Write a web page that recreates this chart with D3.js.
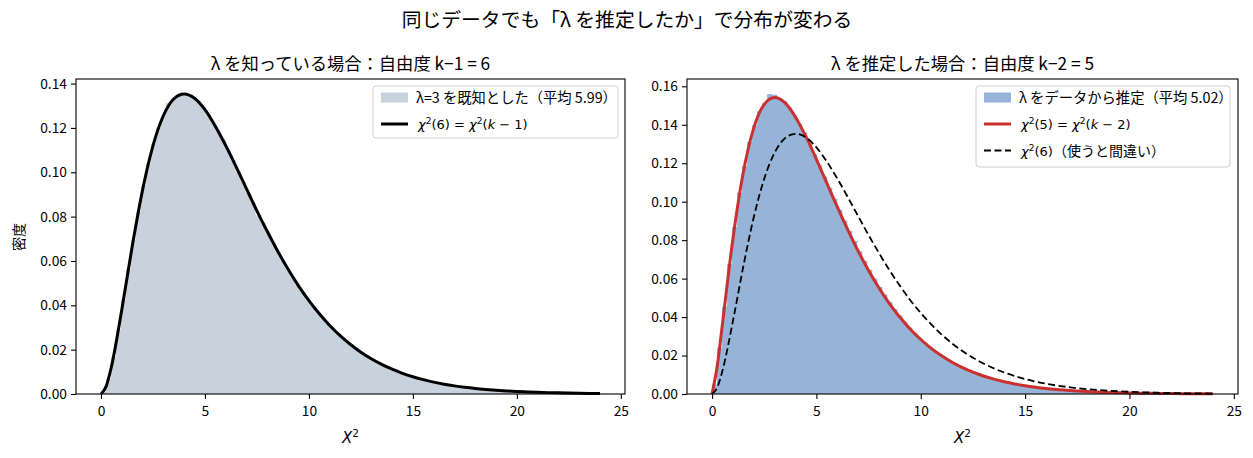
<!DOCTYPE html>
<html>
<head>
<meta charset="utf-8">
<script src="https://cdn.jsdelivr.net/npm/d3@7"></script>
<style>
  body { margin: 0; background: #fff; }
  text { font-family: "Noto Sans CJK JP", "Noto Sans", sans-serif; fill: #000; }
  .math { font-family: "DejaVu Sans", sans-serif; }
</style>
</head>
<body>
<script>
// histogram bins: 100 bins of width 0.24 starting at 0
var binWidth = 0.24;

// λ known: density per bin
var histKnown = [0.0009, 0.0068, 0.0167, 0.0290, 0.0425, 0.0563, 0.0697, 0.0823, 0.0938, 0.1039,
  0.1126, 0.1198, 0.1255, 0.1312, 0.1335, 0.1346, 0.1353, 0.1350, 0.1338, 0.1319,
  0.1293, 0.1261, 0.1225, 0.1185, 0.1150, 0.1098, 0.1051, 0.1004, 0.0957, 0.0909,
  0.0862, 0.0805, 0.0770, 0.0725, 0.0682, 0.0641, 0.0601, 0.0562, 0.0526, 0.0491,
  0.0458, 0.0426, 0.0397, 0.0369, 0.0342, 0.0317, 0.0300, 0.0272, 0.0252, 0.0232,
  0.0214, 0.0198, 0.0183, 0.0168, 0.0154, 0.0142, 0.0131, 0.0120, 0.0110, 0.0101,
  0.0093, 0.0085, 0.0078, 0.0071, 0.0065, 0.0060, 0.0054, 0.0050, 0.0045, 0.0041,
  0.0038, 0.0035, 0.0031, 0.0029, 0.0026, 0.0024, 0.0022, 0.0020, 0.0018, 0.0016,
  0.0015, 0.0014, 0.0012, 0.0011, 0.0010, 0.0009, 0.0008, 0.0008, 0.0007, 0.0006,
  0.0006, 0.0005, 0.0005, 0.0004, 0.0004, 0.0003, 0.0003, 0.0003, 0.0003, 0.0002];

// λ estimated: density per bin
var histEst = [0.0050, 0.0241, 0.0455, 0.0676, 0.0868, 0.1046, 0.1185, 0.1310, 0.1398, 0.1470,
  0.1512, 0.1560, 0.1556, 0.1538, 0.1522, 0.1488, 0.1449, 0.1404, 0.1360, 0.1302,
  0.1245, 0.1188, 0.1131, 0.1072, 0.1015, 0.0958, 0.0902, 0.0848, 0.0795, 0.0742,
  0.0693, 0.0646, 0.0601, 0.0558, 0.0517, 0.0479, 0.0442, 0.0408, 0.0376, 0.0346,
  0.0318, 0.0292, 0.0268, 0.0246, 0.0225, 0.0206, 0.0188, 0.0173, 0.0158, 0.0144,
  0.0131, 0.0120, 0.0109, 0.0100, 0.0091, 0.0083, 0.0076, 0.0069, 0.0063, 0.0057,
  0.0052, 0.0047, 0.0043, 0.0039, 0.0035, 0.0032, 0.0029, 0.0026, 0.0024, 0.0022,
  0.0020, 0.0018, 0.0016, 0.0015, 0.0013, 0.0012, 0.0011, 0.0010, 0.0009, 0.0008,
  0.0007, 0.0006, 0.0006, 0.0005, 0.0005, 0.0004, 0.0004, 0.0004, 0.0003, 0.0003,
  0.0003, 0.0002, 0.0002, 0.0002, 0.0002, 0.0001, 0.0001, 0.0001, 0.0001, 0.0001];

// curve points
var curveX = [0, 0.25, 0.5, 1, 1.5, 2, 2.5, 3, 3.5, 4, 4.5, 5, 5.5, 6, 6.5, 7, 7.5, 8, 8.5, 9, 9.5,
  10, 10.5, 11, 11.5, 12, 12.5, 13, 13.5, 14, 14.5, 15, 15.5, 16, 16.5, 17, 17.5, 18, 18.5,
  19, 19.5, 20, 20.5, 21, 21.5, 22, 22.5, 23, 23.5, 24];
var chi6 = [0, 0.00345, 0.01217, 0.03791, 0.06643, 0.09197, 0.11191, 0.12549, 0.13306, 0.13530,
  0.13340, 0.12828, 0.12081, 0.11205, 0.10246, 0.09249, 0.08262, 0.07326, 0.06439, 0.05624,
  0.04879, 0.04211, 0.03616, 0.03091, 0.02631, 0.02231, 0.01885, 0.01588, 0.01334, 0.01117,
  0.00933, 0.00778, 0.00647, 0.00536, 0.00444, 0.00367, 0.00302, 0.00249, 0.00206, 0.00169,
  0.00139, 0.00114, 0.00093, 0.00076, 0.00062, 0.00051, 0.00041, 0.00033, 0.00027, 0.00022];
var chi5 = [0, 0.01467, 0.03662, 0.08066, 0.11541, 0.13838, 0.15060, 0.15416, 0.15134, 0.14394,
  0.13380, 0.12206, 0.10961, 0.09733, 0.08551, 0.07438, 0.06419, 0.05511, 0.04700, 0.03989,
  0.03368, 0.02834, 0.02375, 0.01983, 0.01651, 0.01370, 0.01134, 0.00937, 0.00772, 0.00635,
  0.00521, 0.00427, 0.00350, 0.00285, 0.00233, 0.00189, 0.00154, 0.00125, 0.00102, 0.00082,
  0.00067, 0.00054, 0.00044, 0.00035, 0.00028, 0.00023, 0.00018, 0.00015, 0.00012, 0.00010];

var xTicks = [0, 5, 10, 15, 20, 25];
var yTicksLeft = [0, 0.02, 0.04, 0.06, 0.08, 0.10, 0.12, 0.14];
var yTicksRight = [0, 0.02, 0.04, 0.06, 0.08, 0.10, 0.12, 0.14, 0.16];

var W = 1253, H = 458;
var svg = d3.select("body").append("svg").attr("width", W).attr("height", H);

// suptitle
svg.append("text").attr("x", 627).attr("y", 27).attr("text-anchor", "middle")
  .attr("font-size", "19.8px").text("同じデータでも「λ を推定したか」で分布が変わる");

// math helper: parts = [[text, italic?, sup?, back-down?], ...]
function mathText(g, x, y, parts, size, anchor) {
  var t = g.append("text").attr("class", "math").attr("x", x).attr("y", y)
    .attr("font-size", size + "px").attr("text-anchor", anchor || "start");
  parts.forEach(function(p) {
    var s = t.append("tspan").text(p[0]);
    if (p[1]) s.attr("font-style", "italic");
    if (p[2]) s.attr("font-size", (size * 0.7) + "px").attr("dy", -size * 0.38);
    if (p[3]) s.attr("dy", size * 0.38);
  });
  return t;
}

function panel(opt) {
  var left = opt.left, right = opt.right, top = 79, bottom = 394;
  var g = svg.append("g");
  var x = d3.scaleLinear().domain([-1.2, 25.2]).range([left, right]);
  var yMax = Math.max(d3.max(opt.hist), d3.max(opt.curves[0].values)) * 1.05;
  var y = d3.scaleLinear().domain([0, yMax]).range([bottom, top]);

  // histogram as one step area (no seams between bars)
  var steps = opt.hist.concat([opt.hist[opt.hist.length - 1]]);
  var area = d3.area()
    .x(function(d, i) { return x(i * binWidth); })
    .y0(y(0))
    .y1(function(d) { return y(d); })
    .curve(d3.curveStepAfter);
  g.append("path").datum(steps).attr("d", area).attr("fill", opt.histColor);

  // curves
  opt.curves.forEach(function(c) {
    var line = d3.line()
      .x(function(d, i) { return x(curveX[i]); })
      .y(function(d) { return y(d); })
      .curve(d3.curveMonotoneX);
    g.append("path").datum(c.values).attr("d", line)
      .attr("fill", "none").attr("stroke", c.color).attr("stroke-width", c.width)
      .attr("stroke-dasharray", c.dash || null);
  });

  // axes
  var xAxis = d3.axisBottom(x).tickValues(xTicks).tickSize(5).tickPadding(4).tickFormat(d3.format("d"));
  var yAxis = d3.axisLeft(y).tickValues(opt.yTicks).tickSize(5).tickPadding(4).tickFormat(d3.format(".2f"));
  var gx = g.append("g").attr("transform", "translate(0," + bottom + ")").call(xAxis);
  var gy = g.append("g").attr("transform", "translate(" + left + ",0)").call(yAxis);
  [gx, gy].forEach(function(a) {
    a.select(".domain").remove();
    a.selectAll("line").attr("stroke", "#000").attr("stroke-width", 1.1);
    a.selectAll("text").attr("font-size", "13.8px")
      .attr("font-family", "'Noto Sans CJK JP', sans-serif").attr("fill", "#000");
  });
  gx.selectAll("text").attr("dy", "0.95em");
  g.append("rect").attr("x", left).attr("y", top).attr("width", right - left).attr("height", bottom - top)
    .attr("fill", "none").attr("stroke", "#000").attr("stroke-width", 1.1);

  // title
  g.append("text").attr("x", (left + right) / 2).attr("y", 69.5).attr("text-anchor", "middle")
    .attr("font-size", "17.3px").text(opt.title);

  // x label
  mathText(g, (left + right) / 2, 443, [["X", true], ["2", false, true]], 15, "middle");

  // legend
  var lg = g.append("g");
  lg.append("rect").attr("x", opt.legX).attr("y", 86).attr("width", opt.legW).attr("height", opt.legH)
    .attr("rx", 3).attr("fill", "#fff").attr("fill-opacity", 0.85)
    .attr("stroke", "#d0d0d0").attr("stroke-width", 1);
  opt.legend.forEach(function(e, i) {
    var cy = 97.5 + i * 26.5;
    var hx = opt.legX + 8;
    if (e.type === "patch") {
      lg.append("rect").attr("x", hx).attr("y", cy - 5).attr("width", 27).attr("height", 10)
        .attr("fill", opt.histColor);
    } else {
      lg.append("line").attr("x1", hx).attr("x2", hx + 27).attr("y1", cy).attr("y2", cy)
        .attr("stroke", e.color).attr("stroke-width", e.width).attr("stroke-dasharray", e.dash || null);
    }
    if (e.parts) {
      var t = mathText(lg, hx + 37, cy + 5, e.parts, 13);
      if (e.tail) t.append("tspan").attr("font-family", "'Noto Sans CJK JP', sans-serif")
        .attr("font-size", "14px").text(e.tail);
    } else {
      lg.append("text").attr("x", hx + 35).attr("y", cy + 5).attr("font-size", "14.3px").text(e.text);
    }
  });
  return g;
}

panel({
  left: 76, right: 625, hist: histKnown, histColor: "#c8d2dc", yTicks: yTicksLeft,
  title: "λ を知っている場合：自由度 k−1 = 6",
  curves: [{ values: chi6, color: "#000", width: 3 }],
  legX: 373, legW: 245, legH: 52,
  legend: [
    { type: "patch", text: "λ=3 を既知とした（平均 5.99）" },
    { type: "line", color: "#000", width: 3,
      parts: [["χ", true], ["2", false, true], ["(6) = ", false, false, true], ["χ", true], ["2", false, true], ["(", false, false, true], ["k", true], [" − 1)", false]] }
  ]
});

panel({
  left: 687, right: 1238, hist: histEst, histColor: "#95b4d8", yTicks: yTicksRight,
  title: "λ を推定した場合：自由度 k−2 = 5",
  curves: [{ values: chi5, color: "#cc2f2f", width: 3 },
           { values: chi6, color: "#000", width: 1.8, dash: "7,3.5" }],
  legX: 976, legW: 254, legH: 81,
  legend: [
    { type: "patch", text: "λ をデータから推定（平均 5.02）" },
    { type: "line", color: "#cc2f2f", width: 3,
      parts: [["χ", true], ["2", false, true], ["(5) = ", false, false, true], ["χ", true], ["2", false, true], ["(", false, false, true], ["k", true], [" − 2)", false]] },
    { type: "line", color: "#000", width: 1.8, dash: "7,3.5",
      parts: [["χ", true], ["2", false, true], ["(6)", false, false, true]], tail: "（使うと間違い）" }
  ]
});

// y label
svg.append("text").attr("transform", "translate(24,237) rotate(-90)").attr("text-anchor", "middle")
  .attr("font-size", "14px").text("密度");
</script>
</body>
</html>
